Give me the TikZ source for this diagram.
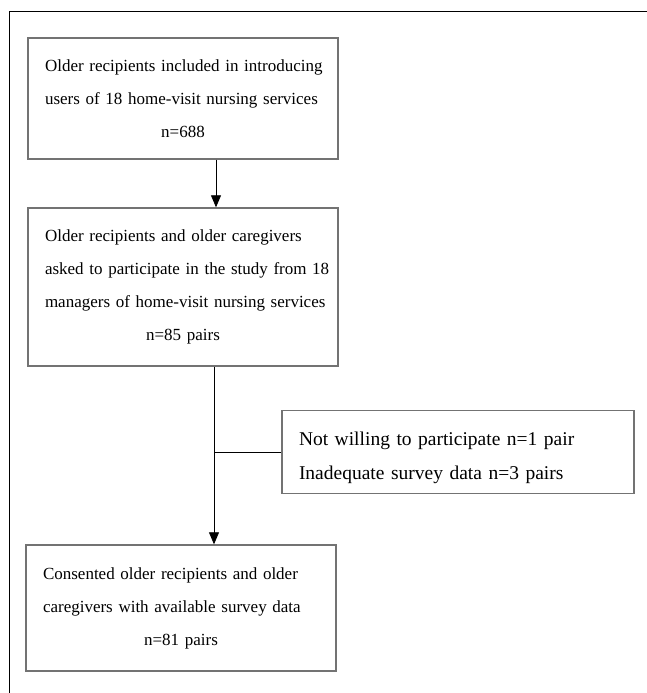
\documentclass[tikz,border=0pt]{standalone}
\usepackage{fontspec}
\setmainfont{Liberation Serif}
\usetikzlibrary{arrows.meta,positioning}
\newcommand{\fullline}[1]{\makebox[\linewidth][s]{#1}\\}
\tikzset{
  flowbox/.style={draw=black!55,line width=1.4pt,rectangle,inner sep=0pt,
    minimum width=310pt,text width=276pt,align=center,
    font=\fontsize{17}{33}\selectfont},
  sidebox/.style={draw=black!55,line width=1.4pt,rectangle,inner sep=0pt,
    minimum width=352pt,minimum height=83pt,text width=318pt,align=left,
    font=\fontsize{19.5}{34}\selectfont},
  flowline/.style={black,line width=0.8pt},
  flowarrow/.style={flowline,-{Triangle[length=12pt,width=10pt]}}
}
\begin{document}
\begin{tikzpicture}[x=1pt,y=-1pt]
			\useasboundingbox (0,0) rectangle (647,693);
			\draw[black,line width=0.9pt] (647,11) -- (9,11) -- (9,693);
			\node[flowbox,minimum height=121pt] (recipients) at (183,98.5) {\fullline{Older recipients included in introducing}\fullline{users of 18 home-visit nursing services}n=688};
			\node[flowbox,minimum height=158pt] (asked) at (183,287) {\fullline{Older recipients and older caregivers}\fullline{asked to participate in the study from 18}\fullline{managers of home-visit nursing services}n=85 pairs};
			\node[sidebox] (excluded) at (458,452) {\rule{0pt}{26pt}Not willing to participate n=1 pair\\Inadequate survey data n=3 pairs};
			\node[flowbox,minimum height=126pt] (consented) at (181,608) {\fullline{Consented older recipients and older}\fullline{caregivers with available survey data}n=81 pairs};
			\coordinate (trunk) at (214,0);
			\draw[flowarrow] (recipients.south -| trunk) ++(2,0) -- ([xshift=2pt]asked.north -| trunk);
			\draw[flowarrow] (asked.south -| trunk) -- (consented.north -| trunk);
			\draw[flowline] (excluded.west -| trunk) -- (excluded.west);
\end{tikzpicture}
\end{document}
